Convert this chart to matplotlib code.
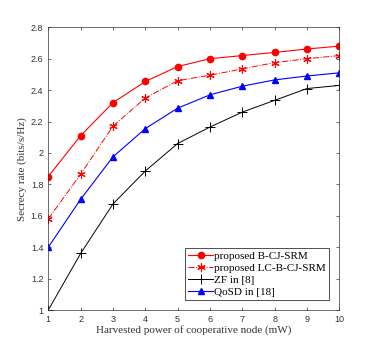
import matplotlib
matplotlib.use("Agg")
import matplotlib.pyplot as plt

power = [1, 2, 3, 4, 5, 6, 7, 8, 9, 10]
b_cj_srm = [1.85, 2.11, 2.32, 2.455, 2.55, 2.60, 2.62, 2.64, 2.662, 2.68]
lc_b_cj_srm = [1.58, 1.865, 2.17, 2.35, 2.46, 2.495, 2.535, 2.575, 2.60, 2.62]
zf = [1.0, 1.36, 1.675, 1.885, 2.06, 2.165, 2.26, 2.335, 2.41, 2.43]
qosd = [1.40, 1.705, 1.975, 2.155, 2.285, 2.37, 2.425, 2.465, 2.49, 2.51]

plt.rcParams['font.family'] = ['Liberation Serif', 'DejaVu Serif']

fig = plt.figure(figsize=(3.74, 3.48), dpi=100)
ax = fig.add_axes([48.3 / 374, 1 - 310 / 348, 291 / 374, 282.7 / 348])

ax.plot(power, b_cj_srm, '-', color='red', marker='o', markersize=4.5, linewidth=0.8,
        label='proposed B-CJ-SRM')
ax.plot(power, lc_b_cj_srm, '-.', color='red', marker=(6, 2, 0), markersize=6, linewidth=0.7,
        markeredgewidth=0.8, label='proposed LC-B-CJ-SRM')
ax.plot(power, zf, '-', color='black', marker='+', markersize=7, linewidth=0.7,
        markeredgewidth=0.7, label='ZF in [8]')
ax.plot(power, qosd, '-', color='blue', marker='^', markersize=4.5, linewidth=0.8,
        label='QoSD in [18]')

ax.set_xlim(1, 10)
ax.set_ylim(1, 2.8)
ax.set_xticks(power)
ax.set_yticks([1, 1.2, 1.4, 1.6, 1.8, 2, 2.2, 2.4, 2.6, 2.8])
ax.set_yticklabels(['1', '1.2', '1.4', '1.6', '1.8', '2', '2.2', '2.4', '2.6', '2.8'])
ax.tick_params(direction='in', top=True, right=True, labelsize=6.5, length=2.5,
               width=0.5, colors='#333333', labelcolor='#333333')
for lab in ax.get_xticklabels() + ax.get_yticklabels():
    lab.set_family(['Liberation Sans', 'DejaVu Sans'])
for s in ax.spines.values():
    s.set_linewidth(0.5)
    s.set_color('#333333')

ax.set_xlabel('Harvested power of cooperative node (mW)', fontsize=8, color='#333333', labelpad=1)
ax.set_ylabel('Secrecy rate (bits/s/Hz)', fontsize=8, color='#333333', labelpad=3)

leg = ax.legend(loc='lower right', bbox_to_anchor=(0.965, 0.035), fontsize=8,
                frameon=True, fancybox=False, edgecolor='black', handlelength=2.2,
                handletextpad=0.1, borderpad=0.3, labelspacing=0.2, borderaxespad=0)
leg.get_frame().set_linewidth(0.6)

fig.savefig('out.png', dpi=100)
